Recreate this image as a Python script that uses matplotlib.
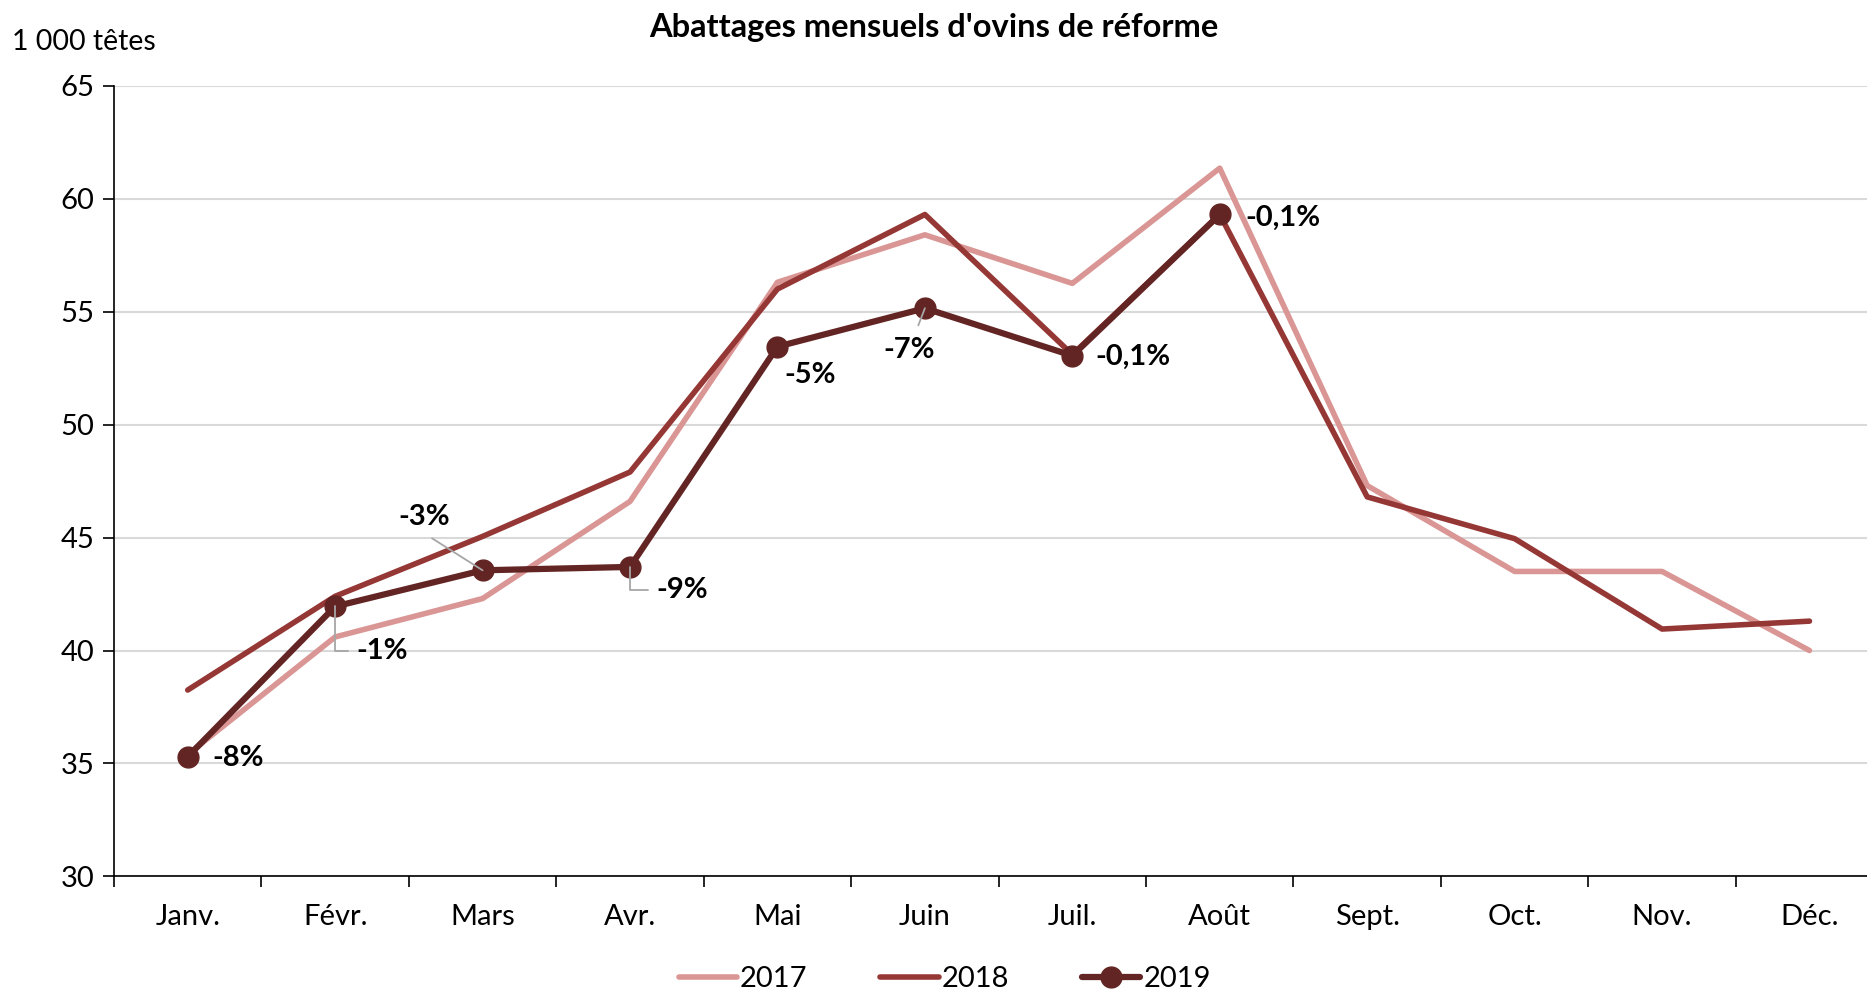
import numpy as np
import matplotlib.pyplot as plt

plt.rcParams['font.family'] = ['Lato', 'DejaVu Sans']

mois = ['Janv.', 'Févr.', 'Mars', 'Avr.', 'Mai', 'Juin', 'Juil.', 'Août',
        'Sept.', 'Oct.', 'Nov.', 'Déc.']
v2017 = [35.4, 40.6, 42.3, 46.6, 56.3, 58.4, 56.25, 61.35, 47.3, 43.5, 43.5, 40.0]
v2018 = [38.25, 42.4, 45.05, 47.9, 56.0, 59.3, 53.1, 59.3, 46.8, 44.95, 40.95, 41.3]
v2019 = [35.3, 41.95, 43.55, 43.7, 53.45, 55.15, 53.05, 59.3]
evol = ['-8%', '-1%', '-3%', '-9%', '-5%', '-7%', '-0,1%', '-0,1%']

# position des etiquettes (decalage en pixels) et style du trait de rappel
lab_off = [(50, -1), (47, -45), (-58, 53), (52, -23), (33, -28), (-16, -42), (61, -1), (63, -3)]
lab_leader = [None, 'elbow', 'line', 'elbow', None, 'line', None, None]

c17, c18, c19 = '#D99694', '#953735', '#632523'

fig = plt.figure(figsize=(18.67, 9.92), dpi=100)
ax = fig.add_axes([114 / 1867, 0.1165, (1867 - 114) / 1867, 0.7971])

x = np.arange(len(mois))
ax.plot(x, v2017, color=c17, lw=4.0, solid_capstyle='round', label='2017', zorder=3)
ax.plot(x, v2018, color=c18, lw=4.0, solid_capstyle='round', label='2018', zorder=4)
ax.plot(x[:len(v2019)], v2019, color=c19, lw=4.5, marker='o', ms=15,
        solid_capstyle='round', label='2019', zorder=5)

for i, txt in enumerate(evol):
    dx, dy = lab_off[i]
    kw = dict(textcoords='offset pixels', ha='center', va='center',
              fontsize=21, fontweight='bold', color='black', zorder=6)
    if lab_leader[i] == 'elbow':
        kw['arrowprops'] = dict(arrowstyle='-', color='#A6A6A6', lw=1.3,
                                connectionstyle='angle,angleA=0,angleB=90,rad=0',
                                relpos=(0, 0.5), shrinkA=4, shrinkB=0)
    elif lab_leader[i] == 'line':
        kw['arrowprops'] = dict(arrowstyle='-', color='#A6A6A6', lw=1.3,
                                relpos=(0.4, 0), shrinkA=7, shrinkB=0)
    ax.annotate(txt, (x[i], v2019[i]), xytext=(dx, dy), **kw)

ax.set_yticks(np.arange(30, 66, 5))
ax.set_ylim(30, 65)
ax.set_xticks(x)
ax.set_xticklabels(mois)
ax.set_xticks(np.arange(-0.5, 12, 1), minor=True)
ax.set_xlim(-0.5, 11.39)
ax.tick_params(axis='x', which='major', length=0, pad=20, labelsize=21)
ax.tick_params(axis='x', which='minor', length=8, width=1.2, direction='out')
ax.tick_params(axis='y', length=8, width=1.2, pad=6, labelsize=21)
ax.grid(axis='y', color='#D9D9D9', lw=1.5)
ax.set_axisbelow(True)
for s in ['top', 'right']:
    ax.spines[s].set_visible(False)
ax.spines['left'].set_linewidth(1.2)
ax.spines['bottom'].set_linewidth(1.2)

fig.text(12 / 1867, 1 - 42 / 992, '1 000 têtes', fontsize=20.5, va='center', ha='left')
fig.text(0.5, 1 - 27 / 992, "Abattages mensuels d'ovins de réforme", fontsize=23.5,
         fontweight='bold', ha='center', va='center')

fig.legend(loc='center', bbox_to_anchor=(0.506, 1 - 979 / 992), ncol=3, frameon=False,
           fontsize=21, handlelength=2.0, columnspacing=2.5, handletextpad=0.1,
           markerscale=1.0)

plt.savefig('out.png', dpi=100)
